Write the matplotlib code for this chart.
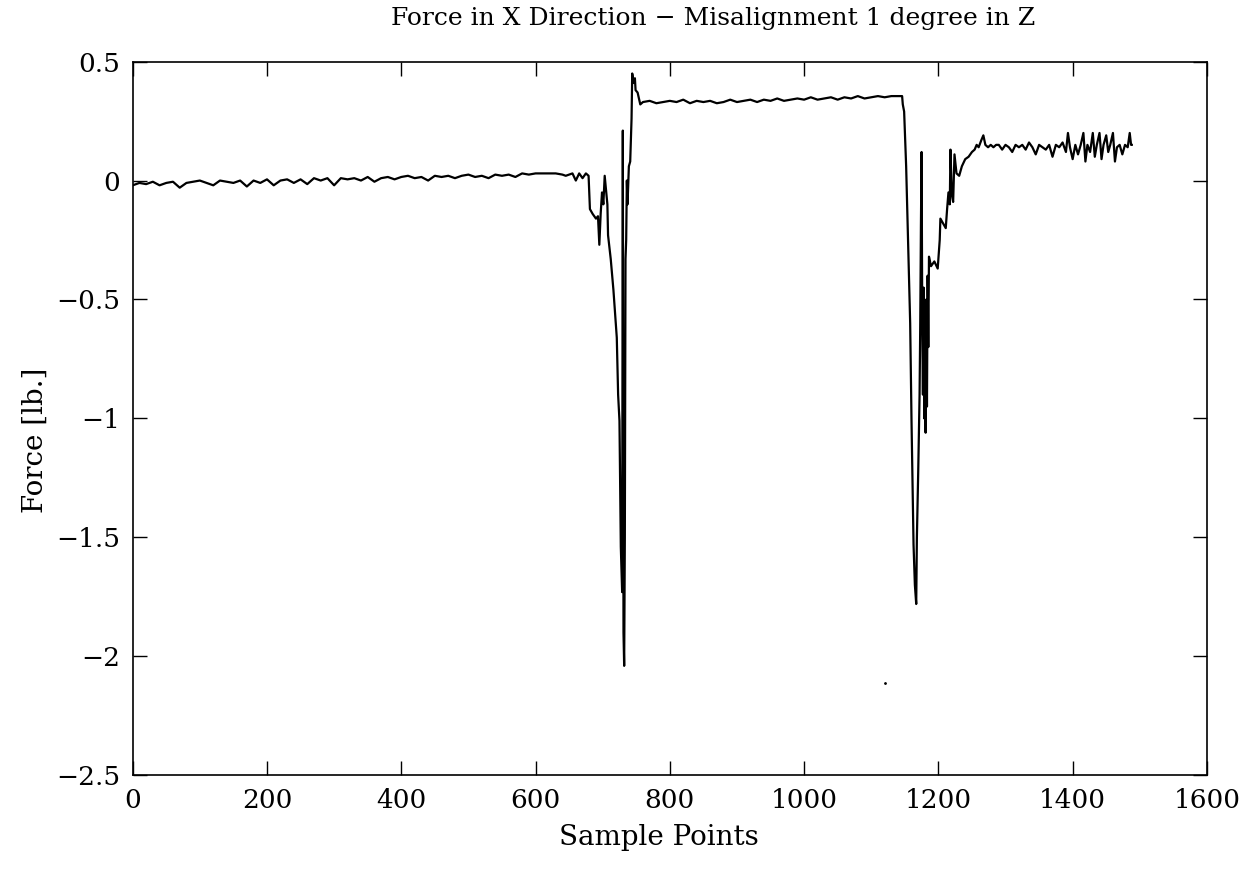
import numpy as np
import matplotlib.pyplot as plt
from matplotlib.ticker import FuncFormatter

# baseline before first contact (read every 10 samples)
x_base = list(range(0, 650, 10))
y_base = [-0.02, -0.01, -0.015, -0.005, -0.02, -0.01, -0.005, -0.03, -0.01, -0.005,
          0.0, -0.01, -0.02, 0.0, -0.005, -0.01, 0.0, -0.025, 0.0, -0.01,
          0.005, -0.02, 0.0, 0.005, -0.01, 0.005, -0.015, 0.01, 0.0, 0.01,
          -0.02, 0.01, 0.005, 0.01, 0.0, 0.015, -0.005, 0.01, 0.015, 0.005,
          0.015, 0.02, 0.01, 0.015, 0.0, 0.02, 0.015, 0.02, 0.01, 0.02,
          0.025, 0.015, 0.02, 0.01, 0.025, 0.02, 0.025, 0.015, 0.03, 0.025,
          0.03, 0.03, 0.03, 0.03, 0.025]

# first event
x_ev1 = [645, 655, 660, 665, 670, 675, 679, 681, 685, 690, 693, 695, 697, 699, 701,
         703, 705, 707, 708, 712, 716, 721, 723, 725, 727, 729, 730, 731, 732, 733,
         734, 735, 736, 737, 739, 741, 743, 744, 746, 748, 749, 752, 756]
y_ev1 = [0.02, 0.03, 0.0, 0.03, 0.01, 0.03, 0.02, -0.12, -0.14, -0.16, -0.15, -0.27, -0.14, -0.05, -0.1,
         0.02, -0.04, -0.1, -0.23, -0.33, -0.46, -0.66, -0.9, -1.01, -1.54, -1.73, 0.21, -1.9, -2.04, -1.5,
         -0.33, -0.25, 0.0, -0.1, 0.06, 0.08, 0.26, 0.45, 0.41, 0.43, 0.38, 0.37, 0.32]

# plateau
x_plat = list(range(760, 1150, 10)) + [1146]
y_plat = [0.33, 0.335, 0.325, 0.33, 0.335, 0.33, 0.34, 0.325, 0.335, 0.33,
          0.335, 0.325, 0.33, 0.34, 0.33, 0.335, 0.34, 0.33, 0.34, 0.335,
          0.345, 0.335, 0.34, 0.345, 0.34, 0.35, 0.34, 0.345, 0.35, 0.34,
          0.35, 0.345, 0.355, 0.345, 0.35, 0.355, 0.35, 0.355, 0.355, 0.355]

# second event
x_ev2 = [1147, 1149, 1152, 1155, 1158, 1160, 1163, 1165, 1167, 1168, 1170, 1172, 1173,
         1174, 1175, 1176, 1177, 1178, 1179, 1180, 1181, 1182, 1183, 1184, 1185, 1186,
         1189, 1194, 1199, 1202, 1203, 1207, 1211, 1213, 1215, 1217, 1218, 1220, 1222,
         1224, 1227, 1231, 1235, 1240, 1245, 1250, 1254, 1257, 1260, 1264, 1267, 1270, 1274, 1278]
y_ev2 = [0.32, 0.29, 0.06, -0.27, -0.60, -1.01, -1.53, -1.70, -1.78, -1.5, -1.22, -0.9, -0.6,
         -0.19, 0.12, -0.6, -0.9, -0.45, -1.0, -0.55, -1.06, -0.5, -0.95, -0.4, -0.7, -0.32,
         -0.36, -0.34, -0.37, -0.25, -0.16, -0.18, -0.2, -0.12, -0.05, -0.1, 0.13, -0.06,
         -0.09, 0.11, 0.03, 0.02, 0.06, 0.09, 0.1, 0.12, 0.13, 0.15, 0.14, 0.17, 0.19,
         0.15, 0.14, 0.15]

# noisy tail
x_tail = [1282, 1286, 1290, 1295, 1300, 1305, 1310, 1315, 1320, 1325, 1330, 1335, 1340,
          1345, 1350, 1355, 1360, 1365, 1370, 1375, 1380, 1385, 1390, 1393, 1396, 1400,
          1404, 1408, 1412, 1416, 1419, 1422, 1426, 1430, 1433, 1436, 1440, 1443, 1446,
          1450, 1453, 1456, 1460, 1463, 1466, 1470, 1474, 1478, 1482, 1485, 1487, 1488]
y_tail = [0.14, 0.15, 0.15, 0.13, 0.15, 0.14, 0.12, 0.15, 0.14, 0.15, 0.13, 0.16, 0.14,
          0.11, 0.15, 0.14, 0.13, 0.15, 0.10, 0.15, 0.14, 0.16, 0.12, 0.20, 0.14, 0.09,
          0.15, 0.11, 0.15, 0.20, 0.08, 0.15, 0.12, 0.20, 0.10, 0.15, 0.20, 0.09, 0.15,
          0.19, 0.12, 0.15, 0.20, 0.08, 0.14, 0.15, 0.11, 0.15, 0.14, 0.20, 0.15, 0.15]

stray_x = [1121]
stray_y = [-2.11]

x = x_base + x_ev1 + x_plat + x_ev2 + x_tail
y = y_base + y_ev1 + y_plat + y_ev2 + y_tail

plt.rcParams['font.family'] = ['DejaVu Serif']
fig = plt.figure(figsize=(12.52, 8.8), dpi=100)
ax = fig.add_axes([0.106, 0.119, 0.858, 0.811])

ax.plot(x, y, color='black', lw=1.6)
ax.plot(stray_x, stray_y, 'k.', ms=2)

ax.set_xlim(0, 1600)
ax.set_ylim(-2.5, 0.5)
ax.set_xticks(range(0, 1601, 200))
ax.set_yticks([0.5, 0, -0.5, -1, -1.5, -2, -2.5])
ax.yaxis.set_major_formatter(FuncFormatter(lambda v, p: ('%g' % v).replace('-', '\u2212')))
ax.tick_params(direction='in', length=10, width=1, top=True, right=True,
               labelsize=19, pad=9)
for s in ax.spines.values():
    s.set_linewidth(1.2)

ax.set_title('Force in X Direction \u2212 Misalignment 1 degree in Z', fontsize=18, pad=26, x=0.54)
ax.set_xlabel('Sample Points', fontsize=20, labelpad=8, x=0.49)
ax.set_ylabel('Force [lb.]', fontsize=20, labelpad=5, y=0.47)

fig.savefig('out.png', dpi=100, facecolor='white')
